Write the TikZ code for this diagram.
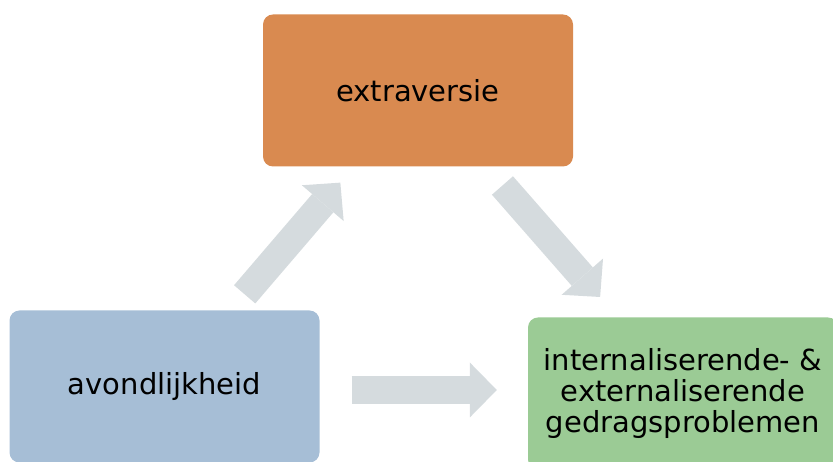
\documentclass[tikz,border=0pt]{standalone}
\usepackage{fontspec}
\setmainfont{DejaVu Sans}
\usepackage{tikz}
\usetikzlibrary{arrows.meta,positioning}

\definecolor{extracol}{HTML}{D98A50}
\definecolor{avondcol}{HTML}{A6BED6}
\definecolor{gedragcol}{HTML}{9BCB95}
\definecolor{flowcol}{HTML}{D5DBDE}

\begin{document}
\begin{tikzpicture}[x=1pt,y=1pt,on grid,
      box/.style={rounded corners=10pt,minimum width=310pt,minimum height=152pt,
        align=center,inner sep=0pt,font=\fontsize{29}{31}\selectfont},
      flow/.style={color=flowcol,line width=28pt,
        -{Triangle[length=27pt,width=55pt,line width=0pt]}}]
			\useasboundingbox (0,0) rectangle (833,462);
			\node[box,fill=extracol] (extra) at (418,371.5) {extraversie};
			\node[box,fill=avondcol] (avond) [below left=296pt and 253.5pt of extra] {avondlijkheid};
			\node[box,fill=gedragcol] (gedrag) [below right=303pt and 265pt of extra] {internaliserende- \&\\externaliserende\\gedragsproblemen};
			\draw[flow,shorten <=21pt,shorten >=21pt]
				([xshift=66.5pt]avond.north) -- ([xshift=-64pt]extra.south);
			\draw[flow,shorten <=25pt,shorten >=25pt]
				([xshift=68pt]extra.south) -- ([xshift=-66.4pt,yshift=1.5pt]gedrag.north);
			\draw[flow,shorten <=32pt,shorten >=31pt]
				([yshift=-3.5pt]avond.east) -- ([yshift=3.5pt]gedrag.west);
		\end{tikzpicture}
\end{document}
